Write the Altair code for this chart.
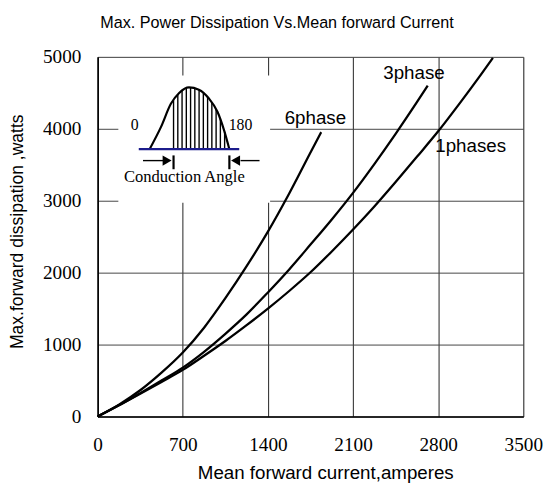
import altair as alt
import pandas as pd

# ---- curves ----
x_6 = [0, 175, 350, 525, 700, 875, 1050, 1225, 1400, 1575, 1750, 1838]
y_6 = [0, 165, 365, 610, 890, 1235, 1645, 2090, 2570, 3100, 3670, 3954]

x_3 = [0, 175, 350, 525, 700, 875, 1050, 1225, 1400, 1575, 1750, 1925, 2100, 2275, 2450, 2625, 2714]
y_3 = [0, 155, 325, 500, 680, 900, 1150, 1420, 1725, 2045, 2390, 2740, 3110, 3510, 3930, 4370, 4600]

x_1 = [0, 175, 350, 525, 700, 875, 1050, 1225, 1400, 1575, 1750, 1925, 2100, 2275, 2450, 2625, 2800, 2975, 3150, 3250]
y_1 = [0, 155, 315, 480, 648, 845, 1050, 1270, 1500, 1745, 2005, 2295, 2600, 2920, 3260, 3610, 3965, 4350, 4750, 4986]

series_names = ["6phase", "3phase", "1phases"]
label_x = [1790, 2601, 3067]
label_y = [4069, 4699, 3671]

x_ticks = [0, 700, 1400, 2100, 2800, 3500]
y_ticks = [0, 1000, 2000, 3000, 4000, 5000]

# ---- inset sketch (in data units of the main axes) ----
box_x = [170]; box_x2 = [1418]; box_y = [2973]; box_y2 = [4740]
hump_x = [427, 521, 602, 670, 751, 832, 913, 986, 1039, 1083]
hump_y = [3717, 4027, 4347, 4497, 4575, 4544, 4425, 4233, 3982, 3717]
hatch_x = [624, 659, 694, 729, 764, 799, 834, 869, 904, 939, 974, 1009, 1044]
hatch_top = [4397, 4480, 4534, 4568, 4575, 4562, 4541, 4500, 4445, 4370, 4267, 4137, 3959]
base_line_x = [338]; base_line_x2 = [1164]; base_line_y = [3717]
shaft_x = [373, 1175]; shaft_x2 = [560, 1331]; shaft_y = [3558, 3558]
bar_x = [624, 1083]; bar_y = [3630, 3630]; bar_y2 = [3438, 3438]
tri_x = [571, 1134]; tri_y = [3558, 3558]; tri_shape = ["triangle-right", "triangle-left"]
inset_text = ["0", "180", "Conduction Angle"]
inset_text_x = [305, 1175, 713]
inset_text_y = [4051, 4055, 3329]
inset_text_size = [16, 16, 16.8]

title_text = ["Max. Power Dissipation Vs.Mean forward Current"]

rows = []
for name, xs, ys in [("6phase", x_6, y_6), ("3phase", x_3, y_3), ("1phases", x_1, y_1)]:
    for i, (a, b) in enumerate(zip(xs, ys)):
        rows.append({"series": name, "x": a, "y": b, "o": i})
curves = pd.DataFrame(rows)

xs_scale = alt.Scale(domain=[0, 3500], nice=False, zero=False)
ys_scale = alt.Scale(domain=[0, 5000], nice=False, zero=False)

X = alt.X("x:Q", scale=xs_scale, axis=alt.Axis(
    values=x_ticks, format="d", title="Mean forward current,amperes", ticks=False,
    labelFont="Liberation Serif", labelFontSize=19.5, labelColor="black",
    labelPadding=19, labelFlush=False, grid=True, gridColor="#222", gridWidth=1,
    domainColor="black", domainWidth=1.6,
    titleFont="Liberation Sans", titleFontSize=19, titleFontWeight="normal",
    titleColor="black", titleX=231, titleY=63, titleBaseline="alphabetic",
    titleAlign="center"))
Y = alt.Y("y:Q", scale=ys_scale, axis=alt.Axis(
    values=y_ticks, format="d", title="Max.forward dissipation ,watts", ticks=False,
    labelFont="Liberation Serif", labelFontSize=19.5, labelColor="black",
    labelPadding=17, labelFlush=False, grid=True, gridColor="#444", gridWidth=1,
    domainColor="black", domainWidth=1.6,
    titleFont="Liberation Sans", titleFontSize=17.8, titleFontWeight="normal",
    titleColor="black", titleX=-76, titleY=177, titleAngle=270,
    titleBaseline="alphabetic", titleAlign="center"))

box = alt.Chart(pd.DataFrame({"x": box_x, "x2": box_x2, "y": box_y, "y2": box_y2})).mark_rect(
    color="white").encode(x=X, x2="x2:Q", y=Y, y2="y2:Q")

lines = alt.Chart(curves).mark_line(color="black", strokeWidth=2.3, interpolate="monotone").encode(
    x=X, y=Y, detail="series:N", order="o:Q")

labels = alt.Chart(pd.DataFrame({"x": label_x, "y": label_y, "t": series_names})).mark_text(
    font="Liberation Sans", fontSize=19, color="black", align="center", baseline="alphabetic"
).encode(x=X, y=Y, text="t:N")

hatch = alt.Chart(pd.DataFrame({"x": hatch_x, "y": [3717] * len(hatch_x), "y2": hatch_top})).mark_rule(
    color="black", strokeWidth=1.4).encode(x=X, y=Y, y2="y2:Q")

hump = alt.Chart(pd.DataFrame({"x": hump_x, "y": hump_y})).mark_line(
    color="black", strokeWidth=2.2, interpolate="monotone").encode(x=X, y=Y)

baseline = alt.Chart(pd.DataFrame({"x": base_line_x, "x2": base_line_x2, "y": base_line_y})).mark_rule(
    color="#1c1c8c", strokeWidth=2.2).encode(x=X, x2="x2:Q", y=Y)

shafts = alt.Chart(pd.DataFrame({"x": shaft_x, "x2": shaft_x2, "y": shaft_y})).mark_rule(
    color="black", strokeWidth=1.4).encode(x=X, x2="x2:Q", y=Y)

bars = alt.Chart(pd.DataFrame({"x": bar_x, "y": bar_y, "y2": bar_y2})).mark_rule(
    color="black", strokeWidth=2.2).encode(x=X, y=Y, y2="y2:Q")

tris = alt.Chart(pd.DataFrame({"x": tri_x, "y": tri_y, "s": tri_shape})).mark_point(
    filled=True, color="black", size=110, opacity=1).encode(
    x=X, y=Y, shape=alt.Shape("s:N", scale=alt.Scale(domain=tri_shape, range=tri_shape), legend=None))

itext = alt.Chart(pd.DataFrame({"x": inset_text_x, "y": inset_text_y, "t": inset_text, "fs": inset_text_size})).mark_text(
    font="Liberation Serif", color="black", align="center", baseline="middle").encode(
    x=X, y=Y, text="t:N", size=alt.Size("fs:Q", scale=None, legend=None))

title = alt.Chart(pd.DataFrame({"t": title_text})).mark_text(
    font="Liberation Sans", fontSize=16.4, color="black", align="center", baseline="alphabetic"
).encode(x=alt.value(182), y=alt.value(-29), text="t:N")

chart = alt.layer(box, lines, labels, hatch, hump, baseline, shafts, bars, tris, itext, title).properties(
    width=432, height=365,
    autosize=alt.AutoSizeParams(type="none"),
    padding={"left": 91, "top": 46, "right": 21, "bottom": 72},
).configure_view(stroke="#888", strokeWidth=2).configure(background="white")

chart.save("out.html", embed_options={"renderer": "svg", "actions": False})
